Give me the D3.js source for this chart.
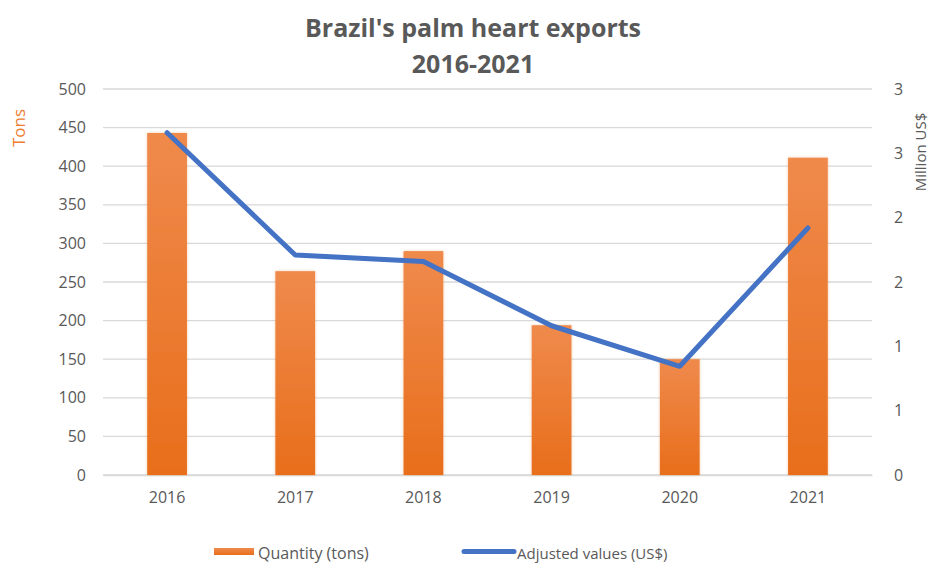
<!DOCTYPE html>
<html>
<head>
<meta charset="utf-8">
<script src="https://cdn.jsdelivr.net/npm/d3@7"></script>
<style>
  html, body { margin: 0; padding: 0; background: #fff; }
  svg { display: block; font-family: "Open Sans", "Noto Sans", sans-serif; }
</style>
</head>
<body>
<svg id="chart" width="930" height="563"></svg>
<script>
// Brazil's palm heart exports, 2016-2021
const years = ["2016", "2017", "2018", "2019", "2020", "2021"];
const quantityTons = [443, 264, 290, 194, 150, 411];
const valueMillionUSD = [2.66, 1.71, 1.66, 1.16, 0.845, 1.92];
const leftTicks = [0, 50, 100, 150, 200, 250, 300, 350, 400, 450, 500];
const rightTicks = [0, 0.5, 1, 1.5, 2, 2.5, 3];

const svg = d3.select("#chart");
const plot = { left: 103, right: 872, top: 89, bottom: 475 };

const x = d3.scaleBand().domain(years).range([plot.left, plot.right]).paddingInner(0.69).paddingOuter(0.345);
const yL = d3.scaleLinear().domain([0, 500]).range([plot.bottom, plot.top]);
const yR = d3.scaleLinear().domain([0, 3]).range([plot.bottom, plot.top]);

const grey = "#595959";
const tickFont = 16;

// bar gradient and soft edge
const defs = svg.append("defs");
const grad = defs.append("linearGradient").attr("id", "barGrad")
  .attr("x1", 0).attr("y1", 0).attr("x2", 0).attr("y2", 1);
grad.append("stop").attr("offset", "0%").attr("stop-color", "#EF8A4C");
grad.append("stop").attr("offset", "100%").attr("stop-color", "#E86E1B");
const glow = defs.append("filter").attr("id", "barGlow")
  .attr("x", "-20%").attr("y", "-5%").attr("width", "140%").attr("height", "110%");
glow.append("feGaussianBlur").attr("in", "SourceAlpha").attr("stdDeviation", 1.5).attr("result", "b");
glow.append("feFlood").attr("flood-color", "#E07020").attr("flood-opacity", 0.35);
glow.append("feComposite").attr("in2", "b").attr("operator", "in").attr("result", "s");
const fm = glow.append("feMerge");
fm.append("feMergeNode").attr("in", "s");
fm.append("feMergeNode").attr("in", "SourceGraphic");

// title
svg.append("text").attr("x", 473).attr("y", 37).attr("text-anchor", "middle")
  .attr("fill", grey).attr("font-size", 25).attr("font-weight", 700)
  .text("Brazil's palm heart exports");
svg.append("text").attr("x", 473).attr("y", 73).attr("text-anchor", "middle")
  .attr("fill", grey).attr("font-size", 25).attr("font-weight", 700)
  .text("2016-2021");

// gridlines
svg.append("g").selectAll("line").data(leftTicks).join("line")
  .attr("x1", plot.left).attr("x2", plot.right)
  .attr("y1", d => yL(d)).attr("y2", d => yL(d))
  .attr("stroke", "#D9D9D9").attr("stroke-width", 1.3);

// left axis
const axL = svg.append("g").attr("transform", `translate(${plot.left - 12},0)`)
  .call(d3.axisLeft(yL).tickValues(leftTicks).tickSize(0).tickPadding(5));
axL.select(".domain").remove();
axL.selectAll("text").attr("fill", grey).attr("font-size", tickFont).attr("font-family", "'Open Sans', sans-serif");

// right axis (whole-number labels)
const axR = svg.append("g").attr("transform", `translate(${plot.right + 17},0)`)
  .call(d3.axisRight(yR).tickValues(rightTicks).tickSize(0).tickPadding(5)
    .tickFormat(d => String(Math.floor(d + 0.5))));
axR.select(".domain").remove();
axR.selectAll("text").attr("fill", grey).attr("font-size", tickFont).attr("font-family", "'Open Sans', sans-serif");

// bottom axis
const axB = svg.append("g").attr("transform", `translate(0,${plot.bottom})`)
  .call(d3.axisBottom(x).tickSize(0).tickPadding(17));
axB.select(".domain").attr("stroke", "#D9D9D9").attr("stroke-width", 1.3);
axB.selectAll("text").attr("fill", grey).attr("font-size", tickFont).attr("font-family", "'Open Sans', sans-serif");

// axis titles
svg.append("text").attr("transform", "translate(25,128) rotate(-90)")
  .attr("text-anchor", "middle").attr("fill", "#ED7D31").attr("font-size", 17)
  .text("Tons");
svg.append("text").attr("transform", "translate(926,152) rotate(-90)")
  .attr("text-anchor", "middle").attr("fill", grey).attr("font-size", 15)
  .text("Million US$");

// bars
svg.append("g").selectAll("rect").data(years).join("rect")
  .attr("x", d => x(d)).attr("width", x.bandwidth())
  .attr("y", (d, i) => yL(quantityTons[i]))
  .attr("height", (d, i) => yL(0) - yL(quantityTons[i]))
  .attr("fill", "url(#barGrad)").attr("filter", "url(#barGlow)");

// value line
const line = d3.line()
  .x((d, i) => x(years[i]) + x.bandwidth() / 2)
  .y(d => yR(d));
svg.append("path").datum(valueMillionUSD)
  .attr("d", line).attr("fill", "none")
  .attr("stroke", "#4472C4").attr("stroke-width", 5)
  .attr("stroke-linejoin", "round").attr("stroke-linecap", "round");

// legend
const lg = svg.append("g");
lg.append("rect").attr("x", 214).attr("y", 548).attr("width", 40).attr("height", 7)
  .attr("fill", "url(#barGrad)");
lg.append("text").attr("x", 258).attr("y", 559).attr("fill", grey).attr("font-size", 16)
  .text("Quantity (tons)");
lg.append("line").attr("x1", 464).attr("x2", 514).attr("y1", 551.5).attr("y2", 551.5)
  .attr("stroke", "#4472C4").attr("stroke-width", 5).attr("stroke-linecap", "round");
lg.append("text").attr("x", 517).attr("y", 559).attr("fill", grey).attr("font-size", 15)
  .text("Adjusted values (US$)");
</script>
</body>
</html>
